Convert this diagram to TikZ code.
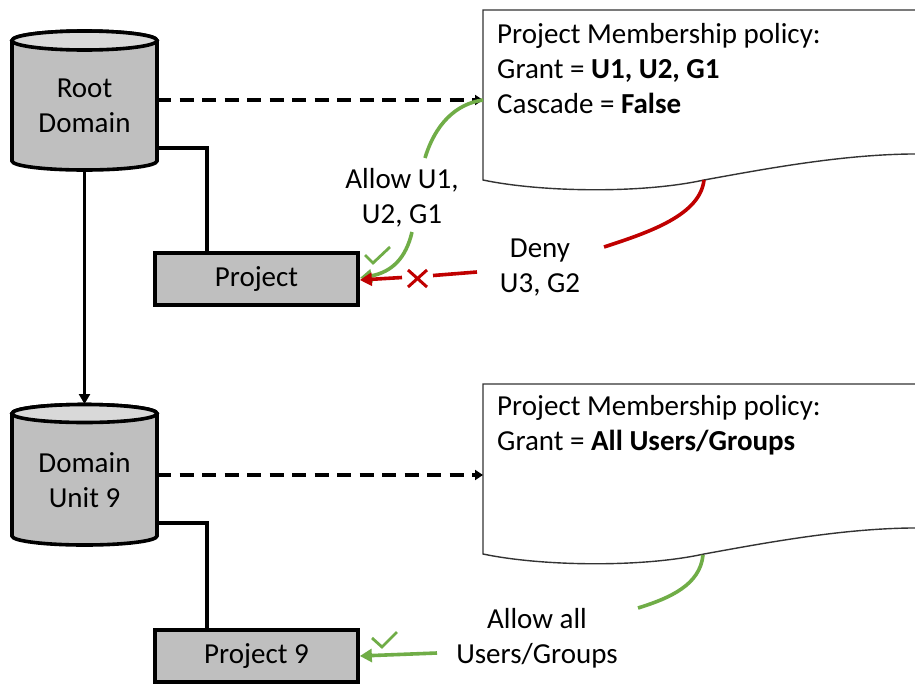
\documentclass[tikz,border=0pt]{standalone}
\usepackage{fontspec}
\setmainfont{Carlito}
\usetikzlibrary{arrows.meta}
\definecolor{boxgray}{HTML}{BFBFBF}
\definecolor{topgray}{HTML}{D9D9D9}
\definecolor{okgreen}{HTML}{70AD47}
\definecolor{nored}{HTML}{C00000}
\begin{document}
\begin{tikzpicture}[x=1pt,y=-1pt,
  every node/.style={font=\fontsize{29}{35}\selectfont, inner sep=0pt},
  cylbody/.style={draw=black, line width=3.6pt, fill=boxgray},
  cyltop/.style={draw=black, line width=3.6pt, fill=topgray},
  projbox/.style={draw=black, line width=3.7pt, fill=boxgray, minimum width=203pt, minimum height=52pt},
  conn/.style={line width=3.3pt},
  dasharrow/.style={line width=3.3pt, dash pattern=on 14pt off 8.5pt, -{Triangle[length=8pt,width=10pt]}},
  docshape/.style={draw=black!80, line width=1.4pt, fill=white},
  greenline/.style={draw=okgreen, line width=3.6pt},
  redline/.style={draw=nored, line width=3.6pt},
  tip/.style={-{Triangle[length=12pt,width=13pt]}},
  lbl/.style={align=center, anchor=base},
  doctext/.style={align=left, anchor=base west},
]
\useasboundingbox (0,0) rectangle (915,683);
\clip (0,0) rectangle (915,683);
\fill[white] (0,0) rectangle (915,683);

% policy documents
\draw[docshape] (483,180) -- (483,10) -- (925,10) -- (925,154)
  .. controls (850,153) and (770,168) .. (704,180)
  .. controls (640,194) and (540,192) .. (483,180) -- cycle;
\draw[docshape] (483,554) -- (483,384) -- (925,384) -- (925,528)
  .. controls (850,527) and (770,542) .. (704,554)
  .. controls (640,568) and (540,566) .. (483,554) -- cycle;
\node[doctext] (doc1) at (497,113) {Project Membership policy:\\Grant = \textbf{U1, U2, G1}\\Cascade = \textbf{False}};
\node[doctext] (doc2) at (497,450) {Project Membership policy:\\Grant = \textbf{All Users/Groups}};

% cylinders
\draw[cylbody] (12,40.5) -- (12,161) arc[start angle=180,end angle=360,x radius=72.5pt,y radius=9pt]
  -- (157,40.5) arc[start angle=0,end angle=180,x radius=72.5pt,y radius=9.5pt] -- cycle;
\draw[cyltop] (84.5,40.5) ellipse[x radius=72.5pt,y radius=9.5pt];
\draw[cylbody] (12,413.5) -- (12,536) arc[start angle=180,end angle=360,x radius=72.5pt,y radius=9pt]
  -- (157,413.5) arc[start angle=0,end angle=180,x radius=72.5pt,y radius=9pt] -- cycle;
\draw[cyltop] (84.5,413.5) ellipse[x radius=72.5pt,y radius=9pt];
\node[lbl] (root) at (84.5,132) {Root\\Domain};
\node[lbl] (du9) at (84.5,507) {Domain\\Unit 9};

\coordinate (rootS) at (84.5,170);
\coordinate (du9N) at (84.5,404);
\coordinate (rootE) at (157,100);
\coordinate (rootJ) at (157,148);
\coordinate (du9E) at (157,475);
\coordinate (du9J) at (157,523);
\coordinate (doc1W) at (483,100);
\coordinate (doc2W) at (483,475);

% project boxes
\node[projbox] (proj) at (256.5,279) {Project};
\node[projbox] (proj9) at (256.5,656) {Project 9};

% structural connectors
\draw[conn] (rootJ) -| ([xshift=-49.5pt]proj.north);
\draw[conn] (du9J) -| ([xshift=-49.5pt]proj9.north);
\draw[conn, -{Triangle[length=10pt,width=11pt]}] (rootS) -- (du9N);
\draw[dasharrow] (rootE) -- (doc1W);
\draw[dasharrow] (du9E) -- (doc2W);

% labels
\node[lbl] (allow1) at (402,223) {Allow U1,\\U2, G1};
\node[lbl] (deny) at (540,292) {Deny\\U3, G2};
\node[lbl] (allowall) at (537,663) {Allow all\\Users/Groups};

% green allow (top)
\coordinate (g1a) at (425,158);
\coordinate (g1b) at (412,232);
\draw[greenline] (g1a) .. controls (435,125) and (455,104) .. (doc1W);
\draw[greenline, tip] (g1b) .. controls (406,258) and (392,272) .. ([yshift=1pt]proj.east);
\draw[draw=okgreen, line width=2.8pt] (365,255) -- (373,263) -- (390,247);

% red deny
\coordinate (r1a) at (704,180);
\coordinate (r1b) at (604,247);
\coordinate (r2a) at (477,272);
\coordinate (r2b) at (433,275.5);
\coordinate (r3a) at (402,277.5);
\draw[redline] (r1a) .. controls (700,215) and (650,232) .. (r1b);
\draw[redline] (r2a) -- (r2b);
\draw[redline, tip] (r3a) -- ([yshift=-1pt]proj.east);
\draw[draw=nored, line width=3pt] (408,270) -- (427,287) (408,287) -- (427,270);

% green allow (bottom)
\coordinate (g2a) at (703,555);
\coordinate (g2b) at (638,608);
\coordinate (g3a) at (437,653);
\draw[greenline] (g2a) .. controls (700,585) and (670,598) .. (g2b);
\draw[greenline, tip] (g3a) -- (proj9.east);
\draw[draw=okgreen, line width=2.8pt] (372,638) -- (382,647) -- (397,632);
\end{tikzpicture}
\end{document}
